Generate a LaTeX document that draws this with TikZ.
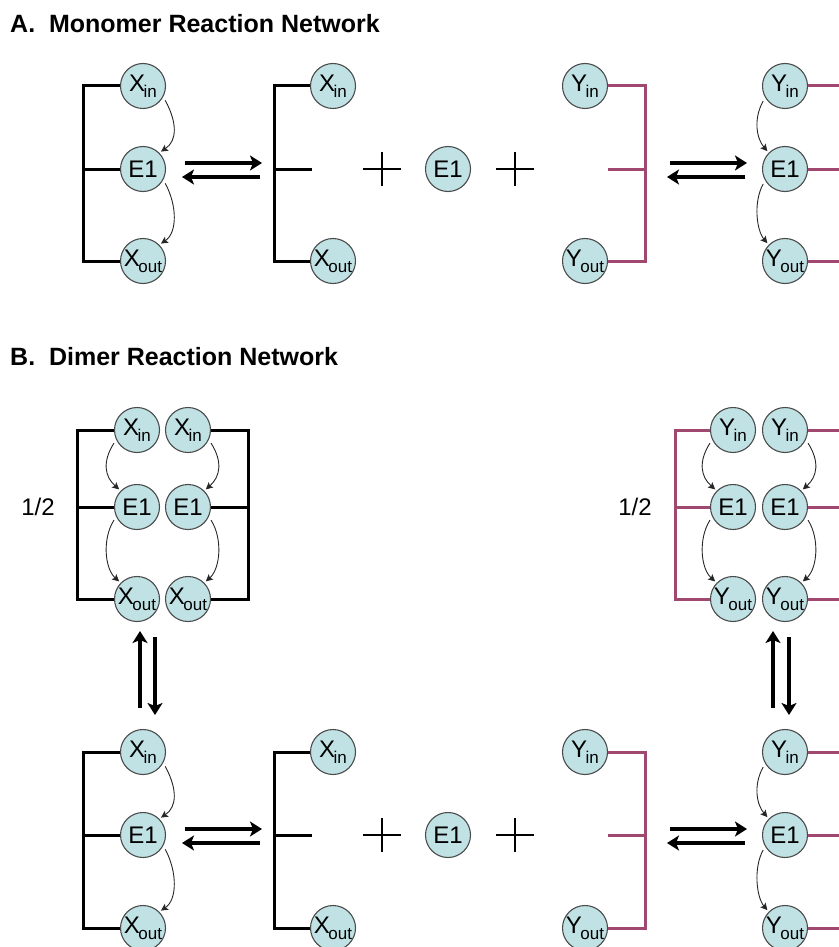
\documentclass[tikz,border=0pt]{standalone}
\usepackage{fontspec}
\setmainfont{Liberation Sans}
\usetikzlibrary{arrows.meta,calc}
\definecolor{circfill}{RGB}{192,226,229}
\definecolor{circgray}{RGB}{75,75,75}
\definecolor{purp}{RGB}{160,72,112}
\newcommand{\lowsub}[1]{\kern-1.5pt\raisebox{-6pt}{\fontsize{17}{17}\selectfont #1}}
\tikzset{
  mol/.style={circle, draw=circgray, fill=circfill, line width=1.1pt, minimum size=45pt, inner sep=0pt, font=\fontsize{24}{24}\selectfont},
  br/.style={line width=3pt, draw=black},
  pbr/.style={line width=3pt, draw=purp},
  rev/.style={line width=3.2pt, -{Stealth[length=12pt,width=15pt,inset=3pt]}},
  cur/.style={line width=0.9pt, draw=black!85, -{Stealth[length=7pt,width=7pt,inset=1.5pt]}, shorten <=4pt, shorten >=2pt},
  plusline/.style={line width=2.2pt},
  ttl/.style={anchor=base west, font=\fontsize{25}{25}\selectfont\bfseries, inner sep=0pt},
  half/.style={font=\fontsize{24}{24}\selectfont, inner sep=0pt}
}
\begin{document}
\begin{tikzpicture}[x=1pt,y=-1pt]
\useasboundingbox (0,0) rectangle (838,947);

% ================= A =================
\node[ttl] (ta) at (10,33) {A.\ \ Monomer Reaction Network};

% left monomer network
\coordinate (bA1) at (83,261);
\node[mol] (xA1) at (143,86) {X\lowsub{in}};
\node[mol] (eA1) at (143,169) {E1};
\node[mol] (oA1) at (143,261) {X\lowsub{out}};
\draw[br] (xA1.west) -| (bA1) -- (oA1.west);
\draw[br] (eA1.west) -- (eA1.west -| bA1);
\draw[cur] (xA1.-28) .. controls +(14,26) and +(18,-12) .. (eA1.45);
\draw[cur] (eA1.-28) .. controls +(14,26) and +(18,-12) .. (oA1.45);

% reversible arrows
\coordinate (rA1a) at (185,163); \coordinate (rA1b) at (262,163);
\coordinate (rA1c) at (260,177); \coordinate (rA1d) at (182,177);
\draw[rev] (rA1a) -- (rA1b);
\draw[rev] (rA1c) -- (rA1d);

% second bracket
\coordinate (bA2) at (274,261);
\coordinate (sA2) at (312,169);
\node[mol] (xA2) at (333,86) {X\lowsub{in}};
\node[mol] (oA2) at (333,261) {X\lowsub{out}};
\draw[br] (xA2.west) -| (bA2) -- (oA2.west);
\draw[br] (sA2) -- (sA2 -| bA2);

% plus E1 plus
\coordinate (pA1) at (382,169);
\draw[plusline] ($(pA1)+(-19,0)$) -- ($(pA1)+(19,0)$) ($(pA1)+(0,-17)$) -- ($(pA1)+(0,17)$);
\node[mol] (eA3) at (448,169) {E1};
\coordinate (pA2) at (515,169);
\draw[plusline] ($(pA2)+(-19,0)$) -- ($(pA2)+(19,0)$) ($(pA2)+(0,-17)$) -- ($(pA2)+(0,17)$);

% purple bracket
\coordinate (bA3) at (645,261);
\coordinate (sA3) at (608,169);
\node[mol] (yA1) at (585,86) {Y\lowsub{in}};
\node[mol] (yoA1) at (585,261) {Y\lowsub{out}};
\draw[pbr] (yA1.east) -| (bA3) -- (yoA1.east);
\draw[pbr] (sA3) -- (sA3 -| bA3);

% reversible arrows
\coordinate (rA2a) at (670,163); \coordinate (rA2b) at (747,163);
\coordinate (rA2c) at (745,177); \coordinate (rA2d) at (667,177);
\draw[rev] (rA2a) -- (rA2b);
\draw[rev] (rA2c) -- (rA2d);

% right Y network
\coordinate (eR) at (850,0);
\node[mol] (yA2) at (785,86) {Y\lowsub{in}};
\node[mol] (eA2) at (785,169) {E1};
\node[mol] (yoA2) at (785,261) {Y\lowsub{out}};
\draw[pbr] (yA2.east) -- (yA2.east -| eR);
\draw[pbr] (eA2.east) -- (eA2.east -| eR);
\draw[pbr] (yoA2.east) -- (yoA2.east -| eR);
\draw[cur] (yA2.-150) .. controls +(-12,22) and +(-12,-14) .. (eA2.135);
\draw[cur] (eA2.-150) .. controls +(-12,22) and +(-12,-14) .. (yoA2.135);

% ================= B =================
\node[ttl] (tb) at (10,365) {B.\ \ Dimer Reaction Network};

% dimer X (top left)
\node[half] (hX) at (38,507) {1/2};
\coordinate (bB1) at (77,599);
\coordinate (bB2) at (248,599);
\node[mol] (xB1) at (137,430) {X\lowsub{in}};
\node[mol] (xB2) at (188,430) {X\lowsub{in}};
\node[mol] (eB1) at (137,507) {E1};
\node[mol] (eB2) at (188,507) {E1};
\node[mol] (oB1) at (137,599) {X\lowsub{out}};
\node[mol] (oB2) at (188,599) {X\lowsub{out}};
\draw[br] (xB1.west) -| (bB1) -- (oB1.west);
\draw[br] (eB1.west) -- (eB1.west -| bB1);
\draw[br] (xB2.east) -| (bB2) -- (oB2.east);
\draw[br] (eB2.east) -- (eB2.east -| bB2);
\draw[cur] (xB1.-155) .. controls +(-14,22) and +(-16,-14) .. (eB1.135);
\draw[cur] (eB1.-155) .. controls +(-14,22) and +(-16,-14) .. (oB1.135);
\draw[cur] (xB2.-25) .. controls +(14,22) and +(16,-14) .. (eB2.45);
\draw[cur] (eB2.-25) .. controls +(14,22) and +(16,-14) .. (oB2.45);

% dimer Y (top right)
\node[half] (hY) at (635,507) {1/2};
\coordinate (bB3) at (675,599);
\node[mol] (yB1) at (733,430) {Y\lowsub{in}};
\node[mol] (yB2) at (785,430) {Y\lowsub{in}};
\node[mol] (eB3) at (733,507) {E1};
\node[mol] (eB4) at (785,507) {E1};
\node[mol] (yoB1) at (733,599) {Y\lowsub{out}};
\node[mol] (yoB2) at (785,599) {Y\lowsub{out}};
\draw[pbr] (yB1.west) -| (bB3) -- (yoB1.west);
\draw[pbr] (eB3.west) -- (eB3.west -| bB3);
\draw[pbr] (yB2.east) -- (yB2.east -| eR);
\draw[pbr] (eB4.east) -- (eB4.east -| eR);
\draw[pbr] (yoB2.east) -- (yoB2.east -| eR);
\draw[cur] (yB1.-155) .. controls +(-14,22) and +(-16,-14) .. (eB3.135);
\draw[cur] (eB3.-155) .. controls +(-14,22) and +(-16,-14) .. (yoB1.135);
\draw[cur] (yB2.-25) .. controls +(14,22) and +(16,-14) .. (eB4.45);
\draw[cur] (eB4.-25) .. controls +(14,22) and +(16,-14) .. (yoB2.45);

% vertical reversible arrows
\coordinate (vL1) at (140,708); \coordinate (vL2) at (140,631);
\coordinate (vL3) at (155,637); \coordinate (vL4) at (155,715);
\draw[rev] (vL1) -- (vL2);
\draw[rev] (vL3) -- (vL4);
\coordinate (vR1) at (773,708); \coordinate (vR2) at (773,631);
\coordinate (vR3) at (789,637); \coordinate (vR4) at (789,715);
\draw[rev] (vR1) -- (vR2);
\draw[rev] (vR3) -- (vR4);

% bottom monomer row
\coordinate (bC1) at (83,928);
\node[mol] (xC1) at (143,752) {X\lowsub{in}};
\node[mol] (eC1) at (143,835) {E1};
\node[mol] (oC1) at (143,928) {X\lowsub{out}};
\draw[br] (xC1.west) -| (bC1) -- (oC1.west);
\draw[br] (eC1.west) -- (eC1.west -| bC1);
\draw[cur] (xC1.-28) .. controls +(14,26) and +(18,-12) .. (eC1.45);
\draw[cur] (eC1.-28) .. controls +(14,26) and +(18,-12) .. (oC1.45);

\coordinate (rC1a) at (185,829); \coordinate (rC1b) at (262,829);
\coordinate (rC1c) at (260,843); \coordinate (rC1d) at (182,843);
\draw[rev] (rC1a) -- (rC1b);
\draw[rev] (rC1c) -- (rC1d);

\coordinate (bC2) at (274,928);
\coordinate (sC2) at (312,835);
\node[mol] (xC2) at (333,752) {X\lowsub{in}};
\node[mol] (oC2) at (333,928) {X\lowsub{out}};
\draw[br] (xC2.west) -| (bC2) -- (oC2.west);
\draw[br] (sC2) -- (sC2 -| bC2);

\coordinate (pC1) at (382,835);
\draw[plusline] ($(pC1)+(-19,0)$) -- ($(pC1)+(19,0)$) ($(pC1)+(0,-17)$) -- ($(pC1)+(0,17)$);
\node[mol] (eC3) at (448,835) {E1};
\coordinate (pC2) at (515,835);
\draw[plusline] ($(pC2)+(-19,0)$) -- ($(pC2)+(19,0)$) ($(pC2)+(0,-17)$) -- ($(pC2)+(0,17)$);

\coordinate (bC3) at (645,928);
\coordinate (sC3) at (608,835);
\node[mol] (yC1) at (585,752) {Y\lowsub{in}};
\node[mol] (yoC1) at (585,928) {Y\lowsub{out}};
\draw[pbr] (yC1.east) -| (bC3) -- (yoC1.east);
\draw[pbr] (sC3) -- (sC3 -| bC3);

\coordinate (rC2a) at (670,829); \coordinate (rC2b) at (747,829);
\coordinate (rC2c) at (745,843); \coordinate (rC2d) at (667,843);
\draw[rev] (rC2a) -- (rC2b);
\draw[rev] (rC2c) -- (rC2d);

\node[mol] (yC2) at (785,752) {Y\lowsub{in}};
\node[mol] (eC2) at (785,835) {E1};
\node[mol] (yoC2) at (785,928) {Y\lowsub{out}};
\draw[pbr] (yC2.east) -- (yC2.east -| eR);
\draw[pbr] (eC2.east) -- (eC2.east -| eR);
\draw[pbr] (yoC2.east) -- (yoC2.east -| eR);
\draw[cur] (yC2.-150) .. controls +(-12,22) and +(-12,-14) .. (eC2.135);
\draw[cur] (eC2.-150) .. controls +(-12,22) and +(-12,-14) .. (yoC2.135);
\end{tikzpicture}
\end{document}
